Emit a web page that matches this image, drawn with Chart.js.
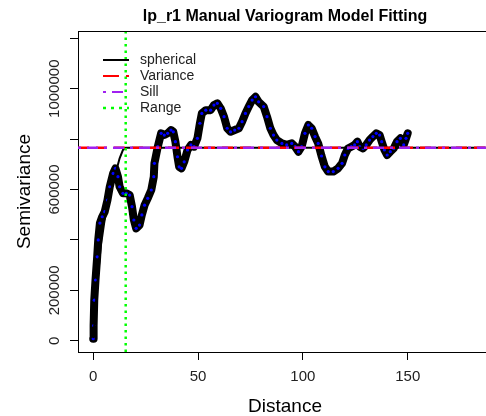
<!DOCTYPE html>
<html>
<head>
<meta charset="utf-8">
<title>lp_r1 variogram</title>
<script src="https://cdn.jsdelivr.net/npm/chart.js@4"></script>
<style>
  html, body { margin: 0; padding: 0; background: #fff; overflow: hidden; }
  canvas { display: block; }
</style>
</head>
<body>
<canvas id="chart" width="496" height="416"></canvas>
<script>
// empirical semivariogram (lag distance, semivariance)
var distance = [0.0, 0.2, 0.5, 1.1, 1.9, 2.4, 3.2, 4.3, 5.5, 6.8, 7.9, 9.5, 10.6, 11.8, 12.6, 14.2, 15.8, 17.4, 18.5, 19.4,
  20.5, 22.1, 23.2, 24.5, 26.0, 27.7, 28.9, 29.2, 30.8, 32.4, 33.9, 35.5, 37.1, 38.2, 39.2, 40.2, 41.0, 42.1, 43.4, 45.0,
  46.6, 48.1, 49.7, 50.9, 51.8, 53.7, 56.0, 57.6, 59.2, 60.8, 62.4, 63.9, 65.5, 67.5, 69.5, 71.0, 72.6, 74.2, 75.8, 77.4,
  78.9, 81.3, 82.9, 84.5, 86.0, 87.6, 90.0, 92.3, 94.7, 96.3, 97.9, 99.4, 101.0, 102.6, 104.2, 105.8, 107.3, 108.9, 110.5, 112.1,
  114.5, 116.8, 118.7, 120.0, 121.5, 123.1, 124.7, 126.0, 127.1, 128.7, 130.2, 131.8, 133.4, 135.0, 136.6, 137.6, 138.9, 140.2, 141.7, 143.3,
  144.9, 146.5, 148.1, 149.2, 150.0];
var semivariance = [8000, 60000, 161000, 241000, 333000, 400000, 467000, 492000, 512000, 558000, 611000, 664000, 684000, 651000, 611000, 585000, 585000, 578000, 532000, 479000,
  446000, 459000, 499000, 538000, 565000, 598000, 651000, 704000, 770000, 823000, 816000, 823000, 836000, 829000, 790000, 730000, 690000, 684000, 710000, 757000,
  777000, 770000, 803000, 863000, 902000, 915000, 915000, 935000, 942000, 922000, 889000, 843000, 829000, 836000, 843000, 869000, 902000, 929000, 955000, 968000,
  948000, 929000, 889000, 843000, 816000, 796000, 783000, 777000, 783000, 770000, 750000, 770000, 823000, 856000, 843000, 810000, 783000, 733000, 690000, 671000,
  671000, 684000, 704000, 737000, 763000, 770000, 777000, 790000, 770000, 763000, 777000, 796000, 810000, 823000, 816000, 790000, 757000, 737000, 750000, 763000,
  790000, 803000, 777000, 803000, 823000];

// fitted spherical model
var modelDistance = [0.0, 0.8, 2.4, 3.6, 5.2, 7.1, 9.5, 11.1, 12.6, 14.2, 15.5, 190];
var modelGamma = [10000, 95000, 267000, 373000, 466000, 558000, 625000, 677000, 724000, 757000, 766000, 766000];

var sampleVariance = 766000;
var sill = 766000;
var range = 15.5;

var xTicks = [0, 50, 100, 150];
var yTicks = [0, 200000, 400000, 600000, 800000, 1000000, 1200000];
var yLabelled = [0, 200000, 600000, 1000000];

var xMin = -7.25, xMax = 190.2;
var yMin = -44800, yMax = 1229000;

var legendItems = [
  { text: "spherical", color: "#000000", dash: [], width: 2 },
  { text: "Variance", color: "#FF0000", dash: [16, 7], width: 2 },
  { text: "Sill", color: "#A020F0", dash: [3, 6, 11, 6], width: 2 },
  { text: "Range", color: "#00FF00", dash: [3, 5], width: 2.5 }
];

var FONT = "'Liberation Sans', Arial, sans-serif";

function pts(xs, ys) {
  return xs.map(function (x, i) { return { x: x, y: ys[i] }; });
}

// vertical y tick labels, title, top border and the legend
var decorations = {
  id: "decorations",
  afterDatasetsDraw: function (chart) {
    var ctx = chart.ctx;
    var area = chart.chartArea;
    var yScale = chart.scales.y;
    ctx.save();
    ctx.strokeStyle = "#000";
    ctx.lineWidth = 1;
    ctx.beginPath();
    ctx.moveTo(area.left, area.top + 0.5);
    ctx.lineTo(area.right, area.top + 0.5);
    ctx.lineTo(area.right - 0.5, area.bottom);
    ctx.stroke();

    ctx.fillStyle = "#222";
    ctx.font = "15px " + FONT;
    ctx.textAlign = "center";
    ctx.textBaseline = "middle";
    yScale.ticks.forEach(function (t) {
      if (yLabelled.indexOf(t.value) < 0) return;
      ctx.save();
      ctx.translate(55, yScale.getPixelForValue(t.value));
      ctx.rotate(-Math.PI / 2);
      ctx.fillText(String(t.value), 0, 0);
      ctx.restore();
    });

    ctx.fillStyle = "#000";
    ctx.font = "bold 16px " + FONT;
    ctx.fillText("lp_r1 Manual Variogram Model Fitting", (area.left + area.right) / 2, 17);

    var rows = [60, 76, 92, 108];
    ctx.font = "14px " + FONT;
    ctx.textAlign = "left";
    legendItems.forEach(function (item, i) {
      ctx.strokeStyle = item.color;
      ctx.lineWidth = item.width;
      ctx.setLineDash(item.dash);
      ctx.beginPath();
      ctx.moveTo(103, rows[i]);
      ctx.lineTo(129, rows[i]);
      ctx.stroke();
      ctx.setLineDash([]);
      ctx.fillStyle = "#222";
      ctx.fillText(item.text, 140, rows[i]);
    });
    ctx.restore();
  }
};

var ctx = document.getElementById("chart").getContext("2d");
var chart = new Chart(ctx, {
  type: "line",
  data: {
    datasets: [
      {
        label: "Range",
        data: [{ x: range, y: yMin }, { x: range, y: yMax }],
        borderColor: "#00FF00",
        borderWidth: 2.5,
        borderDash: [2.5, 4],
        pointRadius: 0,
        order: 0
      },
      {
        label: "Sill",
        data: [{ x: xMin, y: sill }, { x: xMax, y: sill }],
        borderColor: "#A020F0",
        borderWidth: 2.5,
        borderDash: [3, 6, 11, 6],
        pointRadius: 0,
        order: 1
      },
      {
        label: "Variance",
        data: [{ x: xMin, y: sampleVariance }, { x: xMax, y: sampleVariance }],
        borderColor: "#FF0000",
        borderWidth: 2.5,
        borderDash: [11, 7],
        pointRadius: 0,
        order: 2
      },
      {
        label: "spherical",
        data: pts(modelDistance, modelGamma),
        borderColor: "#000000",
        borderWidth: 2,
        pointRadius: 0,
        order: 3
      },
      {
        label: "empirical",
        data: pts(distance, semivariance),
        borderColor: "#000000",
        borderWidth: 8,
        borderCapStyle: "round",
        borderJoinStyle: "round",
        pointRadius: 1.6,
        pointBackgroundColor: "#0000FF",
        pointBorderWidth: 0,
        order: 4
      }
    ]
  },
  options: {
    responsive: false,
    animation: false,
    layout: { padding: { top: 31, left: 0, right: 1, bottom: 0 } },
    plugins: {
      legend: { display: false },
      title: { display: false },
      tooltip: { enabled: false }
    },
    scales: {
      x: {
        type: "linear",
        min: xMin,
        max: xMax,
        afterBuildTicks: function (scale) {
          scale.ticks = xTicks.map(function (v) { return { value: v }; });
        },
        afterFit: function (scale) { scale.height = 64; },
        grid: { drawOnChartArea: false, drawTicks: true, tickLength: 8, tickColor: "#000", tickWidth: 1 },
        border: { display: true, color: "#000", width: 1 },
        ticks: {
          color: "#222",
          font: { family: FONT, size: 15 },
          padding: 8,
          maxRotation: 0,
          autoSkip: false
        },
        title: {
          display: true,
          text: "Distance",
          color: "#000",
          font: { family: FONT, size: 19 },
          padding: { top: 0, bottom: -2 }
        }
      },
      y: {
        type: "linear",
        min: yMin,
        max: yMax,
        afterBuildTicks: function (scale) {
          scale.ticks = yTicks.map(function (v) { return { value: v }; });
        },
        afterFit: function (scale) { scale.width = 78; },
        grid: { drawOnChartArea: false, drawTicks: true, tickLength: 8, tickColor: "#000", tickWidth: 1 },
        border: { display: true, color: "#000", width: 1 },
        ticks: { display: false },
        title: {
          display: true,
          text: "Semivariance",
          color: "#000",
          font: { family: FONT, size: 19 },
          padding: { top: 13.6, bottom: 0 }
        }
      }
    }
  },
  plugins: [decorations]
});
</script>
</body>
</html>
